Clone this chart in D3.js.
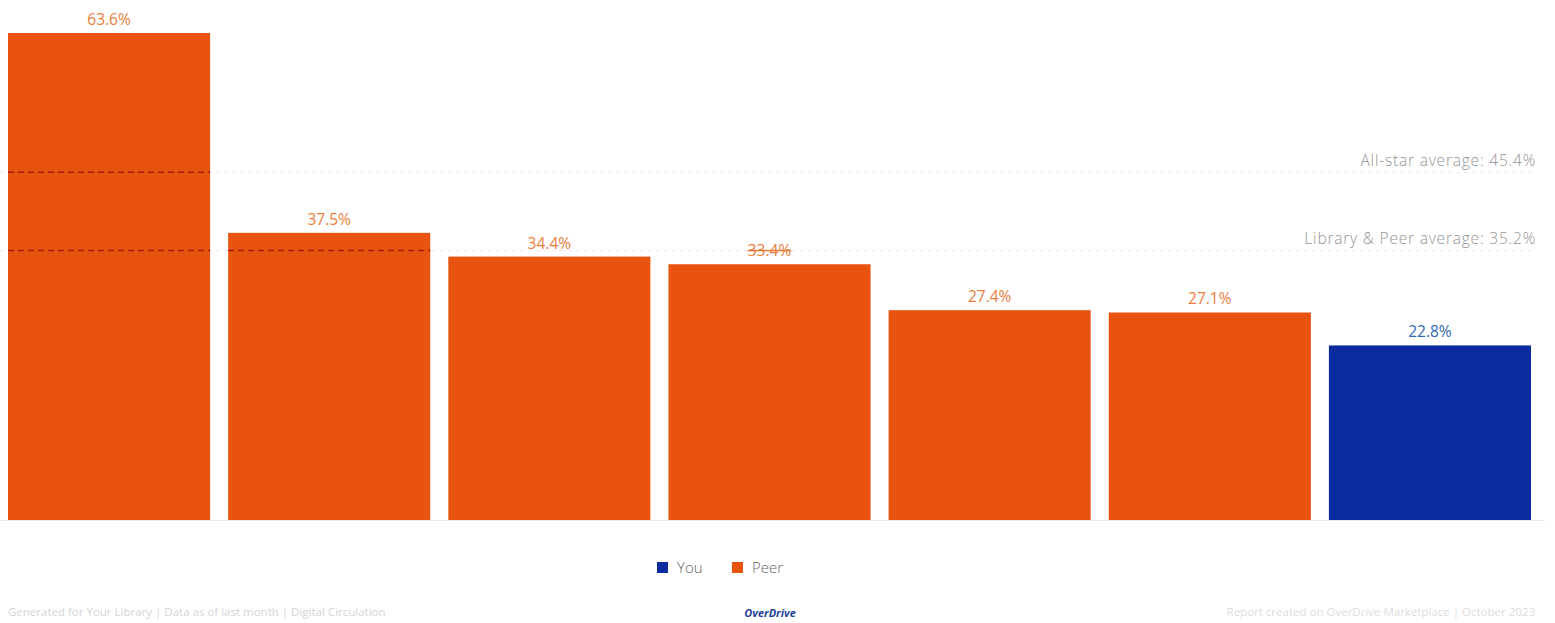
<!DOCTYPE html>
<html><head><meta charset="utf-8">
<script src="https://cdn.jsdelivr.net/npm/d3@7"></script>
<style>
html,body{margin:0;padding:0;background:#fff;}
svg{display:block;font-family:"Open Sans",Lato,sans-serif;}
</style></head>
<body><svg id="chart" width="1555" height="623"></svg>
<script>
const categories = ["Peer 1","Peer 2","Peer 3","Peer 4","Peer 5","Peer 6","You"];
const groups = ["Peer","Peer","Peer","Peer","Peer","Peer","You"];
const values = [63.6,37.5,34.4,33.4,27.4,27.1,22.8];
const averageNames = ["All-star average","Library & Peer average"];
const averageValues = [45.4,35.2];
const legendKeys = ["You","Peer"];

const colors = {You:"#0b2c9e", Peer:"#e8540f"};
const labelColors = {You:"#2f69b3", Peer:"#ea7d3a"};

const svg = d3.select("#chart");
const x = d3.scaleBand().domain(categories).range([8,1531]).paddingInner(0.082).paddingOuter(0);
const y = d3.scaleLinear().domain([0,63.6]).range([520,33]);

const data = categories.map((c,i)=>({c, g:groups[i], v:values[i]}));

// baseline
svg.append("line").attr("x1",0).attr("x2",1545).attr("y1",y(0)+0.5).attr("y2",y(0)+0.5)
  .attr("stroke","#ececec").attr("stroke-width",1);

// faint average lines across
averageValues.forEach((a,i)=>{
  svg.append("line").attr("x1",0).attr("x2",1535).attr("y1",y(a)).attr("y2",y(a))
    .attr("stroke","#ececec").attr("stroke-width",1).attr("stroke-dasharray","4 4");
});

svg.selectAll("rect.bar").data(data).enter().append("rect").attr("class","bar")
  .attr("x",d=>x(d.c)).attr("width",x.bandwidth())
  .attr("y",d=>y(d.v)).attr("height",d=>y(0)-y(d.v))
  .attr("fill",d=>colors[d.g]);

// dashed average lines on bars
averageValues.forEach(a=>{
  data.filter(d=>d.v>a).forEach(d=>{
    svg.append("line").attr("x1",x(d.c)).attr("x2",x(d.c)+x.bandwidth())
      .attr("y1",y(a)).attr("y2",y(a))
      .attr("stroke","#a8180c").attr("stroke-width",1.5).attr("stroke-dasharray","6 4");
  });
});

// value labels
svg.selectAll("text.val").data(data).enter().append("text").attr("class","val")
  .attr("x",d=>x(d.c)+x.bandwidth()/2).attr("y",d=>y(d.v)-8)
  .attr("text-anchor","middle").attr("font-size",15.5).attr("font-weight",400)
  .attr("fill",d=>labelColors[d.g])
  .attr("text-decoration",(d,i)=>i===3?"line-through":null)
  .text(d=>d.v.toFixed(1)+"%");

// average labels
averageValues.forEach((a,i)=>{
  svg.append("text").attr("x",1536).attr("y",y(a)-6).attr("text-anchor","end")
    .attr("font-size",15.5).attr("font-weight",300).attr("fill","#939393")
    .attr("letter-spacing",0.8)
    .text(averageNames[i]+": "+a.toFixed(1)+"%");
});

// legend
const lg = svg.append("g");
const lx = [657,732];
legendKeys.forEach((k,i)=>{
  lg.append("rect").attr("x",lx[i]).attr("y",562).attr("width",11).attr("height",11).attr("fill",colors[k]);
  lg.append("text").attr("x",lx[i]+20).attr("y",573).attr("font-size",15).attr("font-weight",300)
    .attr("fill","#666").text(k);
});

// footer
svg.append("text").attr("x",770).attr("y",617).attr("text-anchor","middle")
  .attr("font-size",11).attr("font-weight",700).attr("font-style","italic")
  .attr("fill","#1d3f9a").text("OverDrive");
svg.append("text").attr("x",8).attr("y",616).attr("font-size",11.5)
  .attr("fill","#d4d4d4").text("Generated for Your Library | Data as of last month | Digital Circulation");
svg.append("text").attr("x",1535).attr("y",616).attr("text-anchor","end").attr("font-size",11.5)
  .attr("fill","#dddddd").text("Report created on OverDrive Marketplace | October 2023");
</script></body></html>
